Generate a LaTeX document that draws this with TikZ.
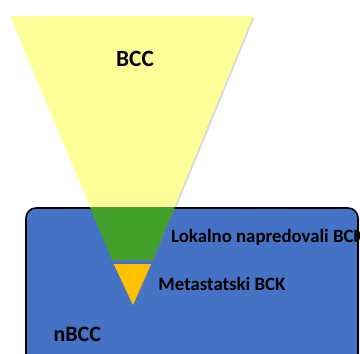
\documentclass[tikz,border=0pt]{standalone}
\usepackage{fontspec}
\setmainfont{Carlito}
\usetikzlibrary{shadows}
\definecolor{bccyellow}{HTML}{FFFF99}
\definecolor{bckgreen}{HTML}{43A02A}
\definecolor{bckorange}{HTML}{FFC000}
\definecolor{nbccblue}{HTML}{4472C4}
\begin{document}
\begin{tikzpicture}[x=1pt, y=-1pt, every node/.style={font=\bfseries, inner sep=0pt},
	softshadow/.style={drop shadow={opacity=0.3, shadow xshift=1.5pt, shadow yshift=-1.5pt}}]
				\useasboundingbox (0,0) rectangle (360,354);
				% 底部区域
				\draw[fill=nbccblue, line width=1.6pt, rounded corners=10pt, softshadow] (26,208) rectangle (358,372);
				
				% 倒三角各层
				\coordinate (A) at (10,16);
				\coordinate (B) at (253,16);
				\coordinate (C) at (174.4,207);
				\coordinate (D) at (89.9,207);
				\coordinate (E) at (152.6,260);
				\coordinate (F) at (112,260);
				\coordinate (G) at (151,264);
				\coordinate (H) at (113.7,264);
				\coordinate (K) at (133,305);
				
				\fill[bccyellow, softshadow] (A) -- (B) -- (C) -- (D) -- cycle;
				\fill[bckgreen, softshadow] (D) -- (C) -- (E) -- (F) -- cycle;
				\fill[bckorange, softshadow] (H) -- (G) -- (K) -- cycle;
				
				% 文字
				\node[anchor=base, font=\bfseries\fontsize{23.3}{27}\selectfont] (bcc) at (135,66.5) {BCC};
				\node[anchor=base west, font=\bfseries\fontsize{18.8}{22}\selectfont] (lokalno) at (171,242.7) {Lokalno napredovali BCK};
				\node[anchor=base west, font=\bfseries\fontsize{18.8}{22}\selectfont] (meta) at (158.3,290) {Metastatski BCK};
				\node[anchor=base west, font=\bfseries\fontsize{22}{26}\selectfont] (nbcc) at (53.3,341) {nBCC};
			\end{tikzpicture}
\end{document}
